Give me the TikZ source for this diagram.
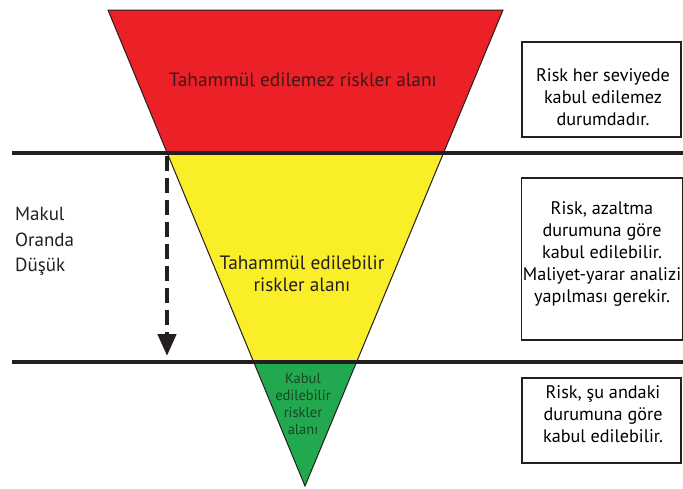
\documentclass[tikz,border=0pt]{standalone}
\usepackage{fontspec}
\setmainfont{PT Sans}
\usetikzlibrary{arrows.meta}
\definecolor{zonered}{RGB}{236,32,39}
\definecolor{zoneyellow}{RGB}{250,238,40}
\definecolor{zonegreen}{RGB}{34,168,78}
\definecolor{redtext}{RGB}{60,24,24}
\definecolor{greentext}{RGB}{25,70,35}
\definecolor{ink}{RGB}{35,31,32}
\tikzset{
  band/.style={line width=4.5pt, draw=ink},
  edge/.style={line width=1pt, draw=ink, line join=miter},
  notebox/.style={draw=ink, line width=1.3pt, inner sep=0pt},
  notetext/.style={align=center, font=\fontsize{18.2}{22}\selectfont, inner sep=0pt},
  zonelabel/.style={align=center, font=\fontsize{19.3}{22}\selectfont},
  sidelabel/.style={align=left, anchor=north west, font=\fontsize{19}{25.5}\selectfont, inner sep=0pt},
  levelarrow/.style={line width=4.5pt, draw=ink, dash pattern=on 15pt off 7pt, -{Triangle[length=22pt,width=18pt,fill=ink]}}
}
\begin{document}
\begin{tikzpicture}[x=1pt,y=-1pt]
  \useasboundingbox (0,0) rectangle (683,488);
  % corners of the inverted triangle
  \coordinate (tl) at (108,10);
  \coordinate (tr) at (503,10);
  \coordinate (apex) at (305,486);
  % colour zones, clipped to the triangle
  \begin{scope}
    \clip (tl) -- (tr) -- (apex) -- cycle;
    \fill[zonered] (100,0) rectangle (510,153);
    \fill[zoneyellow] (100,153) rectangle (510,362);
    \fill[zonegreen] (100,362) rectangle (510,490);
  \end{scope}
  \draw[edge] (tl) -- (tr) -- (apex) -- cycle;
  % level boundaries
  \coordinate (upperL) at (12,153);
  \coordinate (upperR) at (683,153);
  \coordinate (lowerL) at (12,362);
  \coordinate (lowerR) at (683,362);
  \draw[band] (upperL) -- (upperR);
  \draw[band] (lowerL) -- (lowerR);
  % zone labels
  \node[zonelabel, text=redtext] (redzone) at (303,80) {Tahammül edilemez riskler alanı};
  \node[zonelabel, text=ink] (yellowzone) at (302,274) {Tahammül edilebilir\\riskler alanı};
  \node[align=center, text=greentext, font=\fontsize{14.5}{17}\selectfont] (greenzone) at (303,404) {Kabul\\edilebilir\\riskler\\alanı};
  % reduction arrow
  \coordinate (arrowtop) at (167,156);
  \coordinate (arrowtip) at (167,356);
  \draw[levelarrow] (arrowtop) -- (arrowtip);
  \node[sidelabel, text=ink] (reduce) at (15,207) {Makul\\Oranda\\Düşük};
  % explanation boxes
  \node[notebox, minimum width=159pt, minimum height=95pt] (box1) at (601.5,89.5) {};
  \node[notebox, minimum width=161pt, minimum height=162pt] (box2) at (602,259) {};
  \node[notebox, minimum width=159pt, minimum height=85pt] (box3) at (601.5,420.5) {};
  \node[notetext] (note1) at (603,97) {Risk her seviyede\\kabul edilemez\\durumdadır.};
  \node[notetext] (note2) at (602,254) {Risk, azaltma\\durumuna göre\\kabul edilebilir.\\Maliyet-yarar analizi\\yapılması gerekir.};
  \node[notetext] (note3) at (603,414) {Risk, şu andaki\\durumuna göre\\kabul edilebilir.};
\end{tikzpicture}
\end{document}
